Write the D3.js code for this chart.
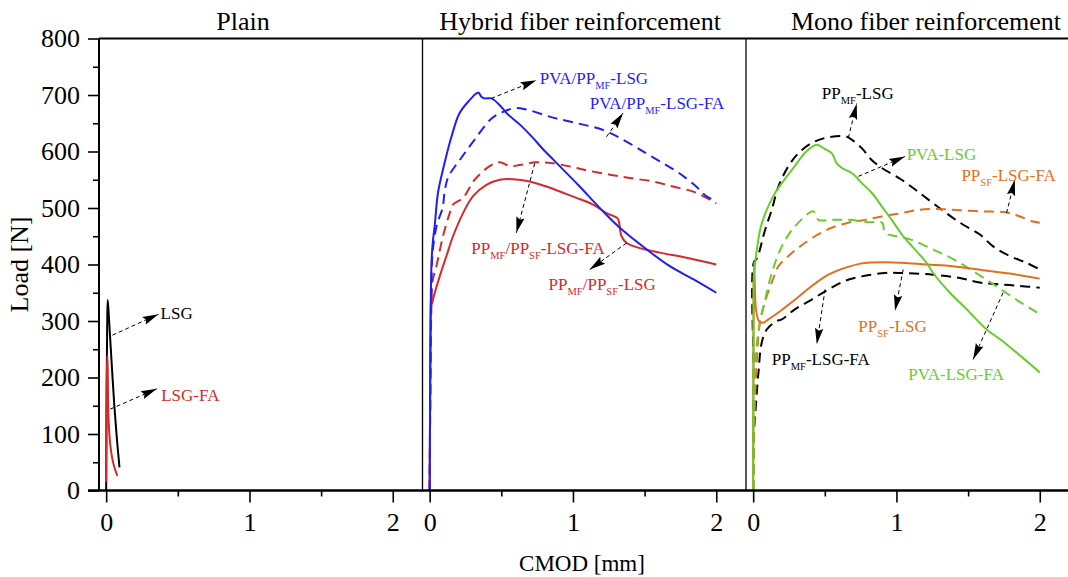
<!DOCTYPE html>
<html><head><meta charset="utf-8">
<script src="https://cdn.jsdelivr.net/npm/d3@7"></script>
<style>body{margin:0;background:#fff}svg{display:block}text{font-family:"Liberation Serif","Times New Roman",serif}</style>
</head><body><svg id="c" width="1068" height="577"></svg>
<script>
// ---------- data ----------
const panelTitles = ["Plain", "Hybrid fiber reinforcement", "Mono fiber reinforcement"];
const titleCenters = [0.955, 1.05, 1.206];
const xTicks = [0, 1, 2];
const xMinorTicks = [0.5, 1.5];
const yTicks = [0, 100, 200, 300, 400, 500, 600, 700, 800];
const yMinorTicks = [50, 150, 250, 350, 450, 550, 650, 750];

// Plain
const plainLSG = [[0,0],[0.003,170],[0.007,290],[0.011,337],[0.020,303],[0.038,227],[0.057,150],[0.075,91],[0.093,41]];
const plainLSGFA = [[0,15],[0.002,120],[0.006,220],[0.009,238],[0.012,190],[0.015,138],[0.027,85],[0.043,56],[0.061,38],[0.078,26]];

// Hybrid
const hybPVA_LSG = [[0,0],[0.004,200],[0.008,344],[0.014,410],[0.022,440],[0.035,468],[0.058,527],[0.093,568],[0.152,626],[0.209,668],[0.279,691],[0.326,703],[0.342,704],[0.361,697],[0.384,694],[0.431,694],[0.489,682],[0.536,668],[0.628,648],[0.721,624],[0.791,604],[0.861,586],[0.978,556],[1.047,538],[1.21,494],[1.327,465],[1.513,427],[1.676,397],[1.839,374],[2.0,350]];
const hybPVA_LSG_FA = [[0,0],[0.005,200],[0.012,350],[0.02,420],[0.05,470],[0.09,500],[0.105,530],[0.13,555],[0.21,585],[0.314,621],[0.43,658],[0.52,671],[0.6,677],[0.68,674],[0.86,660],[1.03,650],[1.21,638],[1.37,618],[1.51,597],[1.63,579],[1.74,562],[1.86,538],[1.93,521],[2.0,512]];
const hybPP_LSG_FA = [[0,0],[0.004,150],[0.01,300],[0.02,370],[0.047,397],[0.093,450],[0.14,491],[0.163,506],[0.233,518],[0.314,550],[0.419,574],[0.489,581],[0.559,574],[0.628,576],[0.745,581],[0.861,579],[1.024,571],[1.071,568],[1.257,559],[1.397,553],[1.559,547],[1.699,538],[1.839,529],[1.932,518],[2.0,508]];
const hybPP_LSG = [[0,0],[0.003,150],[0.006,300],[0.01,345],[0.016,330],[0.025,340],[0.07,379],[0.117,415],[0.163,450],[0.233,491],[0.303,521],[0.396,541],[0.489,550],[0.582,551],[0.698,547],[0.815,538],[0.931,527],[1.024,518],[1.14,506],[1.234,491],[1.31,482],[1.322,475],[1.327,465],[1.339,450],[1.374,438],[1.467,429],[1.606,421],[1.793,412],[2.0,400]];

// Mono
const monoPP_LSG = [[0,0],[0.003,200],[0.006,405],[0.025,410],[0.084,462],[0.13,497],[0.176,538],[0.246,574],[0.316,597],[0.409,615],[0.502,624],[0.641,627],[0.688,621],[0.758,606],[0.827,585],[0.897,571],[1.036,550],[1.16,527],[1.3,500],[1.443,474],[1.582,453],[1.675,432],[1.791,415],[1.907,403],[2.0,391]];
const monoPVA_LSG = [[0,0],[0.002,250],[0.005,380],[0.014,403],[0.049,462],[0.084,490],[0.14,521],[0.2,544],[0.29,574],[0.37,600],[0.444,612],[0.49,606],[0.548,597],[0.583,579],[0.618,571],[0.688,562],[0.758,544],[0.827,527],[0.897,503],[0.967,479],[1.047,450],[1.117,430],[1.21,403],[1.256,385],[1.373,350],[1.489,321],[1.629,285],[1.721,268],[1.838,244],[2.0,209]];
const monoPVA_LSG_FA = [[0,0],[0.004,120],[0.015,230],[0.045,295],[0.084,338],[0.13,385],[0.2,432],[0.293,468],[0.42,494],[0.455,479],[0.55,479],[0.67,479],[0.8,475],[0.9,474],[0.92,456],[1.0,450],[1.1,444],[1.26,426],[1.4,409],[1.555,385],[1.695,362],[1.835,338],[2.0,312]];
const monoPPSF_LSG_FA = [[0,0],[0.01,133],[0.026,232],[0.049,300],[0.09,340],[0.14,375],[0.176,397],[0.246,415],[0.328,432],[0.432,450],[0.548,465],[0.664,474],[0.78,479],[0.897,485],[1.036,491],[1.164,497],[1.303,498],[1.443,496],[1.605,494],[1.768,492],[1.861,485],[1.953,476],[2.0,474]];
const monoPPSF_LSG = [[0,0],[0.002,200],[0.004,370],[0.007,405],[0.012,360],[0.02,320],[0.04,300],[0.07,297],[0.107,303],[0.176,315],[0.293,338],[0.409,362],[0.525,382],[0.641,394],[0.757,402],[0.92,404],[1.036,403],[1.21,400],[1.394,397],[1.605,390],[1.79,384],[1.907,379],[2.0,375]];
const monoPP_LSG_FA = [[0,0],[0.005,100],[0.014,133],[0.037,209],[0.06,262],[0.095,285],[0.165,300],[0.2,303],[0.293,321],[0.409,338],[0.525,356],[0.641,371],[0.757,379],[0.92,385],[1.036,385],[1.256,382],[1.443,376],[1.582,368],[1.721,365],[1.861,362],[2.0,359]];

// annotations: label, panel, arrow from (x,y), arrow tip (x,y), label anchor (x,y)
const annLabels = ["LSG","LSG-FA","PVA/PP_{MF}-LSG","PVA/PP_{MF}-LSG-FA","PP_{MF}/PP_{SF}-LSG-FA","PP_{MF}/PP_{SF}-LSG","PP_{MF}-LSG","PVA-LSG","PP_{SF}-LSG-FA","PP_{SF}-LSG","PP_{MF}-LSG-FA","PVA-LSG-FA"];
const annPanels = [0,0,1,1,1,1,2,2,2,2,2,2];
const annFrom = [[0.044,275],[0.028,144],[0.43,694],[1.234,626],[0.733,579],[1.374,438],[0.664,624],[0.734,556],[1.768,491],[1.047,391],[0.502,356],[1.744,350]];
const annTo = [[0.365,312],[0.354,180],[0.745,726],[1.35,668],[0.605,456],[1.117,391],[0.723,685],[1.059,591],[1.826,550],[0.99,318],[0.444,259],[1.535,232]];
const annAt = [[0.38,314],[0.384,168],[0.768,729],[1.117,685],[0.291,429],[0.83,365],[0.479,703],[1.071,594],[1.453,557],[0.734,290],[0.13,232],[1.082,206]];

// ---------- styles ----------
const COL = {black:"#000000", red:"#d42a2a", blue:"#1f1ff5", green:"#68cc2c", orange:"#e0701e"};
const series = [
  {p:0, d:plainLSG, c:COL.black, dash:false},
  {p:0, d:plainLSGFA, c:COL.red, dash:false},
  {p:1, d:hybPP_LSG_FA, c:COL.red, dash:true},
  {p:1, d:hybPVA_LSG_FA, c:COL.blue, dash:true},
  {p:1, d:hybPP_LSG, c:COL.red, dash:false},
  {p:1, d:hybPVA_LSG, c:COL.blue, dash:false},
  {p:2, d:monoPP_LSG, c:COL.black, dash:true},
  {p:2, d:monoPP_LSG_FA, c:COL.black, dash:true},
  {p:2, d:monoPPSF_LSG_FA, c:COL.orange, dash:true},
  {p:2, d:monoPVA_LSG_FA, c:COL.green, dash:true},
  {p:2, d:monoPPSF_LSG, c:COL.orange, dash:false},
  {p:2, d:monoPVA_LSG, c:COL.green, dash:false}
];
const annColors = [COL.black, COL.red, COL.blue, COL.blue, COL.red, COL.red, COL.black, COL.green, COL.orange, COL.orange, COL.black, COL.green];

// ---------- layout ----------
const svg = d3.select("#c");
const panelLefts = [99, 422.5, 746], panelW = 323.5;
const xDomain = [-0.05, 2.2075];
const xs = panelLefts.map(l => d3.scaleLinear().domain(xDomain).range([l, l + panelW]));
const y = d3.scaleLinear().domain([0, 800]).range([490.5, 38.5]);

svg.append("defs").append("marker")
  .attr("id","ah").attr("markerUnits","userSpaceOnUse")
  .attr("markerWidth",17).attr("markerHeight",10)
  .attr("refX",16).attr("refY",5).attr("orient","auto")
  .append("path").attr("d","M0,0.8 L16,5 L0,9.2 L2.5,5 Z").attr("fill","#000");

// curves
series.forEach(s => {
  svg.append("path").datum(s.d)
    .attr("d", d3.line().x(d => xs[s.p](d[0])).y(d => y(d[1])).curve(d3.curveCatmullRom.alpha(0.5)))
    .attr("fill","none").attr("stroke", s.c).attr("stroke-width", 2)
    .attr("stroke-dasharray", s.dash ? "10,6" : null)
    .attr("stroke-linejoin","round");
});

// frame
const fr = svg.append("g").attr("stroke","#000").attr("fill","none");
fr.append("line").attr("x1", xs[0](xDomain[0])).attr("x2", 1068).attr("y1", y(800)).attr("y2", y(800)).attr("stroke-width", 2);
fr.append("line").attr("x1", xs[0](xDomain[0])).attr("x2", xs[0](xDomain[0])).attr("y1", y(800)).attr("y2", y(0)).attr("stroke-width", 2);
[1,2].forEach(i => fr.append("line").attr("x1", xs[i](xDomain[0])).attr("x2", xs[i](xDomain[0])).attr("y1", y(800)).attr("y2", y(0)).attr("stroke-width", 1.3));
fr.append("line").attr("x1", xs[0](xDomain[0]) - 11).attr("x2", 1068).attr("y1", y(0)).attr("y2", y(0)).attr("stroke-width", 2.4);

// axes
function styleAxis(g){
  g.select(".domain").remove();
  g.selectAll(".tick line").attr("stroke-width", 1.6);
  g.selectAll(".tick text").attr("font-size", 26).attr("font-family", '"Liberation Serif","Times New Roman",serif').attr("fill","#000");
}
xs.forEach(sx => {
  svg.append("g").attr("transform", `translate(0,${y(0)})`)
    .call(d3.axisBottom(sx).tickValues(xTicks).tickSize(12).tickPadding(10).tickFormat(d3.format("d"))).call(styleAxis);
  svg.append("g").attr("transform", `translate(0,${y(0)})`)
    .call(d3.axisBottom(sx).tickValues(xMinorTicks).tickSize(6).tickFormat("")).call(styleAxis);
});
svg.append("g").attr("transform", `translate(${xs[0](xDomain[0])},0)`)
  .call(d3.axisLeft(y).tickValues(yTicks).tickSize(11).tickPadding(8)).call(styleAxis);
svg.append("g").attr("transform", `translate(${xs[0](xDomain[0])},0)`)
  .call(d3.axisLeft(y).tickValues(yMinorTicks).tickSize(6).tickFormat("")).call(styleAxis);

// titles
panelTitles.forEach((t, i) => {
  svg.append("text").attr("x", xs[i](titleCenters[i])).attr("y", 30)
    .attr("text-anchor","middle").attr("font-size", 26).text(t);
});
svg.append("text").attr("transform", `translate(28,${(y(0)+y(800))/2}) rotate(-90)`)
  .attr("text-anchor","middle").attr("font-size", 26).text("Load [N]");
svg.append("text").attr("x", 582).attr("y", 571)
  .attr("text-anchor","middle").attr("font-size", 23).text("CMOD [mm]");

// annotations
annLabels.forEach((lab, i) => {
  const sx = xs[annPanels[i]];
  svg.append("line")
    .attr("x1", sx(annFrom[i][0])).attr("y1", y(annFrom[i][1]))
    .attr("x2", sx(annTo[i][0])).attr("y2", y(annTo[i][1]))
    .attr("stroke","#000").attr("stroke-width",1).attr("stroke-dasharray","4,3")
    .attr("marker-end","url(#ah)");
  const t = svg.append("text").attr("x", sx(annAt[i][0])).attr("y", y(annAt[i][1]) + 5.5)
    .attr("font-size",17).attr("fill", annColors[i]);
  const parts = lab.split(/(_\{[^}]*\})/).filter(s => s.length);
  let shifted = false;
  parts.forEach(p => {
    if (p.startsWith("_{")) {
      const ts = t.append("tspan").attr("font-size",10.5).text(p.slice(2, -1));
      if (!shifted) ts.attr("dy", 5);
      shifted = true;
    } else {
      const ts = t.append("tspan").text(p);
      if (shifted) ts.attr("dy", -5);
      shifted = false;
    }
  });
});
</script></body></html>
